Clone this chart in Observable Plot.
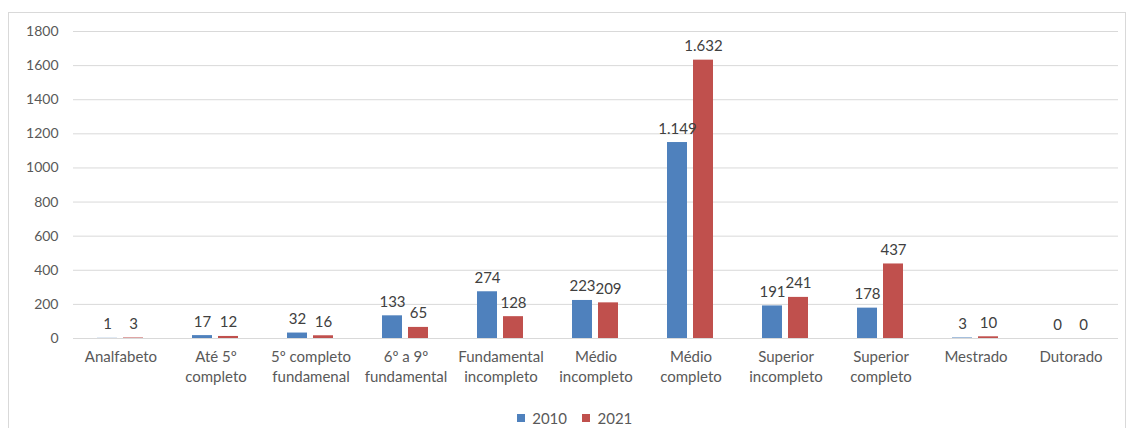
<!DOCTYPE html>
<html>
<head>
<meta charset="utf-8">
<script src="https://cdn.jsdelivr.net/npm/d3@7"></script>
<script src="https://cdn.jsdelivr.net/npm/@observablehq/plot@0.6"></script>
<style>
  html, body { margin: 0; padding: 0; background: #fff; }
  #wrap { position: relative; width: 1135px; height: 428px; overflow: hidden; font-family: Lato, "Open Sans", sans-serif; }
  #frame { position: absolute; left: 8px; top: 12px; width: 1118px; height: 430px; border: 1px solid #d9d9d9; box-sizing: border-box; }
  #chart { position: absolute; left: 0; top: 0; }
  #legend { position: absolute; top: 401px; left: 0; width: 1164px; display: flex; justify-content: center; }
</style>
</head>
<body>
<div id="wrap">
  <div id="frame"></div>
  <div id="chart"></div>
  <div id="legend"></div>
</div>
<script>
const categories = ["Analfabeto", "Até 5º completo", "5º completo fundamenal", "6º a 9º fundamental", "Fundamental incompleto", "Médio incompleto", "Médio completo", "Superior incompleto", "Superior completo", "Mestrado", "Dutorado"];
const tickLabels = ["Analfabeto", "Até 5º\ncompleto", "5º completo\nfundamenal", "6º a 9º\nfundamental", "Fundamental\nincompleto", "Médio\nincompleto", "Médio\ncompleto", "Superior\nincompleto", "Superior\ncompleto", "Mestrado", "Dutorado"];
const years = ["2010", "2021"];
const values2010 = [1, 17, 32, 133, 274, 223, 1149, 191, 178, 3, 0];
const values2021 = [3, 12, 16, 65, 128, 209, 1632, 241, 437, 10, 0];
const yTicks = [0, 200, 400, 600, 800, 1000, 1200, 1400, 1600, 1800];
const colors = ["#4F81BD", "#C0504D"];

const data = [];
categories.forEach((c, i) => {
  data.push({cat: c, year: years[0], value: values2010[i]});
  data.push({cat: c, year: years[1], value: values2021[i]});
});
const labelOf = new Map(categories.map((c, i) => [c, tickLabels[i]]));
const fmt = d3.formatLocale({decimal: ",", thousands: ".", grouping: [3], currency: ["", ""]}).format(",");

const chart = Plot.plot({
  width: 1135,
  height: 392,
  marginTop: 31,
  marginBottom: 54,
  marginLeft: 70,
  marginRight: 14,
  style: {fontFamily: "Lato, 'Open Sans', sans-serif", fontSize: "15px", color: "#595959", background: "transparent"},
  fx: {domain: categories, padding: 0, label: null, axis: null},
  x: {domain: years, paddingInner: 0.22, paddingOuter: 0.88, axis: null},
  y: {domain: [0, 1800], label: null, axis: null},
  color: {domain: years, range: colors},
  marks: [
    Plot.gridY(yTicks, {stroke: "#d9d9d9", strokeOpacity: 1}),
    Plot.axisY(yTicks, {tickSize: 0, tickPadding: 15, label: null, fill: "#595959", fontSize: 14, tickFormat: d => String(d)}),
    Plot.axisFx({anchor: "bottom", tickSize: 0, tickPadding: 10, label: null, lineHeight: 1.3, lineAnchor: "top", fill: "#595959", fontSize: 15, tickFormat: c => labelOf.get(c)}),
    Plot.barY(data, {fx: "cat", x: "year", y: "value", fill: "year"}),
    Plot.text(data, {fx: "cat", x: "year", y: "value", text: d => fmt(d.value), dy: -9, lineAnchor: "bottom", fill: "#404040", fontSize: 15})
  ]
});
document.getElementById("chart").appendChild(chart);

const legend = Plot.legend({
  color: {type: "ordinal", domain: years, range: colors},
  swatchSize: 8,
  style: {fontFamily: "Lato, 'Open Sans', sans-serif", fontSize: "15px", color: "#595959"}
});
document.getElementById("legend").appendChild(legend);
</script>
</body>
</html>
